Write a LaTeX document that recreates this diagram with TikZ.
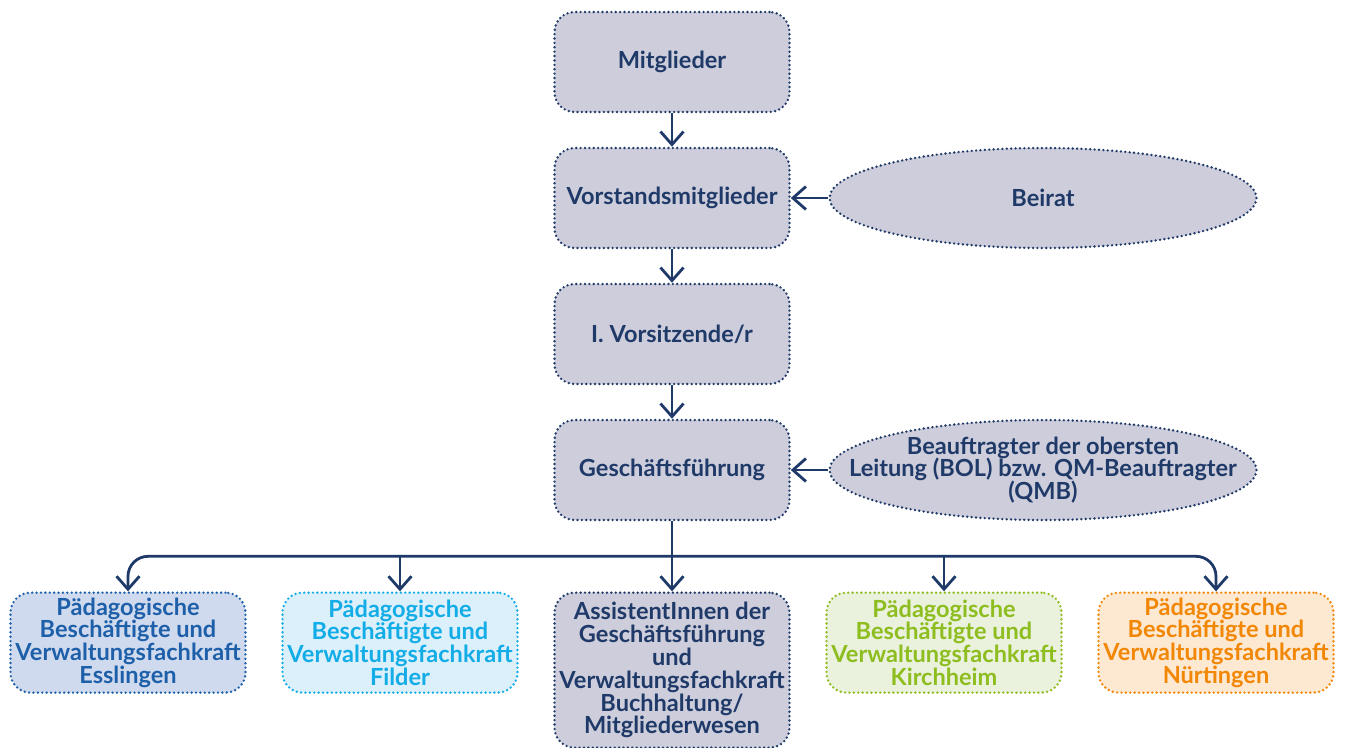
\documentclass[tikz,border=0pt]{standalone}
\usepackage{fontspec}
\setmainfont{Lato}
\usetikzlibrary{positioning, shapes.geometric, arrows.meta}
\definecolor{navy}{HTML}{1F3A68}
\definecolor{grayfill}{HTML}{CDCDDB}
\definecolor{esstext}{HTML}{1D5FA8}
\definecolor{essfill}{HTML}{CFDAEE}
\definecolor{filtext}{HTML}{12ACE6}
\definecolor{filfill}{HTML}{DCF0FB}
\definecolor{kirtext}{HTML}{8DBD1E}
\definecolor{kirfill}{HTML}{EAF1DC}
\definecolor{nuetext}{HTML}{F28705}
\definecolor{nuefill}{HTML}{FDE8D2}
\tikzset{
node distance=2.72cm, % vertical spacing of the main column
every node/.style={font=\fontsize{13.4}{13}\selectfont\bfseries, align=center},
dots/.style={line width=1.5pt, line cap=round, dash pattern=on 0pt off 2.5pt}, % dotted outline
box/.style={dots, draw=navy, fill=grayfill, text=navy, rounded corners=0.4cm,
  minimum width=4.7cm, minimum height=2cm, inner sep=1pt},
oval/.style={dots, draw=navy, fill=grayfill, text=navy, ellipse,
  minimum width=8.54cm, minimum height=2cm, inner xsep=-3cm, inner ysep=-1cm}, % fixed size
team/.style={box, draw=#1text, fill=#1fill, text=#1text, anchor=north}, % coloured site boxes
arr/.style={draw=navy, line width=1.6pt, -{Straight Barb[length=2.6mm, width=4.6mm, line width=1.6pt]}},
}
\begin{document}
\begin{tikzpicture}
\useasboundingbox (-13.44,1.24) rectangle (13.50,-13.70);
% main column
\node[box] (mitglieder) at (0,0) {Mitglieder};
\node[box, below of=mitglieder] (vorstand) {Vorstandsmitglieder};
\node[box, below of=vorstand] (vorsitz) {I. Vorsitzende/r};
\node[box, below of=vorsitz] (gf) {Geschäftsführung};
% advisory ovals
\node[oval, right of=vorstand, node distance=7.42cm] (beirat) {Beirat};
\node[oval, right of=gf, node distance=7.42cm] (bol) {Beauftragter der obersten\\Leitung (BOL) bzw. QM-Beauftragter\\(QMB)};
% bottom row
\node[box, below=1.4cm of gf, minimum height=3.1cm] (assist) {AssistentInnen der\\Geschäftsführung\\und\\Verwaltungsfachkraft\\Buchhaltung/\\Mitgliederwesen};
\node[team=ess] (esslingen) at ([xshift=-10.88cm]assist.north) {Pädagogische\\Beschäftigte und\\Verwaltungsfachkraft\\Esslingen};
\node[team=fil] (filder) at ([xshift=-5.44cm]assist.north) {Pädagogische\\Beschäftigte und\\Verwaltungsfachkraft\\Filder};
\node[team=kir] (kirchheim) at ([xshift=5.44cm]assist.north) {Pädagogische\\Beschäftigte und\\Verwaltungsfachkraft\\Kirchheim};
\node[team=nue] (nuertingen) at ([xshift=10.88cm]assist.north) {Pädagogische\\Beschäftigte und\\Verwaltungsfachkraft\\Nürtingen};
\coordinate[below=0.7cm of gf] (bus);
% connectors
\draw[arr] (mitglieder) -- (vorstand);
\draw[arr] (vorstand) -- (vorsitz);
\draw[arr] (vorsitz) -- (gf);
\draw[arr] (beirat) -- (vorstand);
\draw[arr] (bol) -- (gf);
\draw[arr] (gf) -- (assist);
\draw[arr, rounded corners=0.4cm] (bus) -| (esslingen);
\draw[arr, rounded corners=0.4cm] (bus) -| (nuertingen);
\draw[arr] (filder.north |- bus) -- (filder);
\draw[arr] (kirchheim.north |- bus) -- (kirchheim);
\end{tikzpicture}
\end{document}
